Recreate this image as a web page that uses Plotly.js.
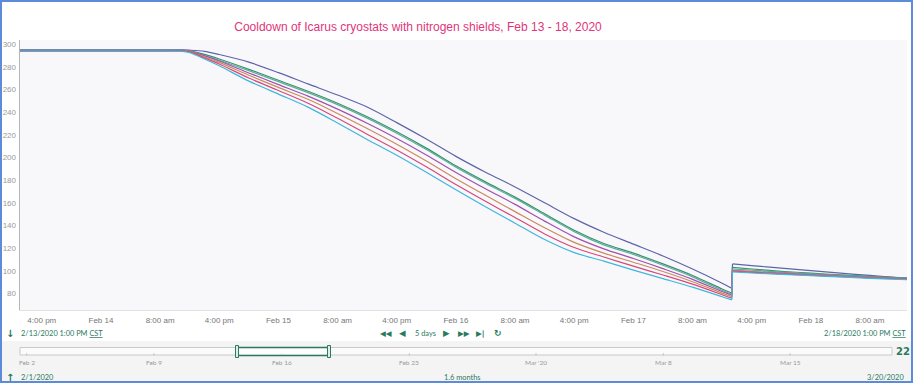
<!DOCTYPE html>
<html>
<head>
<meta charset="utf-8">
<script src="https://cdn.plot.ly/plotly-3.0.1.min.js"></script>
<style>
  html, body { margin: 0; padding: 0; background: #ffffff; }
  #chart { width: 915px; height: 385px; }
</style>
</head>
<body>
<div id="chart"></div>
<script>
// ---- data ----
const times = ['2020-02-13 13:00', '2020-02-14 00:00', '2020-02-14 08:00', '2020-02-14 11:00', '2020-02-14 12:00',
  '2020-02-14 14:00', '2020-02-14 16:00', '2020-02-14 20:00', '2020-02-15 00:00', '2020-02-15 04:00',
  '2020-02-15 08:00', '2020-02-15 12:00', '2020-02-15 16:00', '2020-02-15 20:00', '2020-02-16 00:00',
  '2020-02-16 04:00', '2020-02-16 08:00', '2020-02-16 12:00', '2020-02-16 16:00', '2020-02-16 20:00',
  '2020-02-17 00:00', '2020-02-17 04:00', '2020-02-17 08:00', '2020-02-17 12:00', '2020-02-17 13:18',
  '2020-02-17 13:24', '2020-02-17 16:00', '2020-02-17 20:00', '2020-02-18 00:00', '2020-02-18 04:00',
  '2020-02-18 08:00', '2020-02-18 12:00', '2020-02-18 13:00'];

const sensorSlate = [295, 295, 295, 295, 294.8, 293.8, 291, 284.3, 275, 265, 255.2, 244.6, 230.8, 216.3, 201,
  187, 174, 160, 146, 134, 123.5, 113, 101.5, 89, 84.6, 106, 104.5, 102.3, 100, 97.8, 95.8, 93.8, 93.3];
const sensorGreen = [294.6, 294.6, 294.6, 294.6, 294.2, 291.1, 287, 277.9, 268.2, 258.5, 247.9, 236, 222.7, 208.3, 192.7,
  178.5, 165, 150.3, 135.7, 124, 115.5, 106, 95.8, 83.9, 80.3, 103, 101.5, 99.5, 97.8, 96.3, 95, 94, 93.6];
const sensorTeal = [294.4, 294.4, 294.4, 294.4, 294, 290, 285.8, 276.7, 267, 257.3, 246.7, 234.8, 221.5, 207.1, 191.5,
  177.3, 163.8, 149.1, 134.5, 122.8, 114.3, 104.8, 94.6, 82.7, 79.1, 101.5, 100.5, 98.8, 97.3, 96, 94.7, 93.7, 93.3];
const sensorPurple = [294.3, 294.3, 294.3, 294.3, 293.8, 289.9, 285.3, 274.7, 264.4, 254.2, 242.7, 230.2, 216.8, 202.3, 186.8,
  172.4, 158.6, 143.8, 129.9, 119.3, 110.8, 101.8, 92.4, 81.6, 78.3, 100.3, 99.3, 97.8, 96.5, 95.3, 94.1, 93.2, 92.9];
const sensorOrange = [294.2, 294.2, 294.2, 294.2, 293.6, 289, 284, 272.7, 261.9, 251.4, 238.8, 225.6, 211.7, 196.9, 181.2,
  166.6, 152.2, 137.9, 125, 115.5, 107.5, 99.3, 90.3, 80.2, 77.1, 100, 99, 97.5, 96.2, 95, 93.9, 93, 92.7];
const sensorCrimson = [294.2, 294.2, 294.2, 294.2, 293.3, 288, 282.6, 270.2, 259.2, 248, 234.7, 220.6, 206.7, 191.8, 176.1,
  161.3, 147, 132.5, 120.5, 112.1, 104, 96.2, 88.1, 78.8, 75.7, 99.6, 98.6, 97.2, 96, 94.8, 93.7, 92.8, 92.5];
const sensorCyan = [294, 294, 294, 293.7, 292.5, 287, 281, 267.5, 256, 244.5, 230.5, 216, 202, 187, 171.5,
  156.5, 142, 127.5, 116, 108.5, 100.5, 93, 85.5, 77, 74.2, 99, 98, 96.8, 95.6, 94.5, 93.3, 92.3, 92];

const xTickVals = ['2020-02-13 16:00', '2020-02-14 00:00', '2020-02-14 08:00', '2020-02-14 16:00', '2020-02-15 00:00',
  '2020-02-15 08:00', '2020-02-15 16:00', '2020-02-16 00:00', '2020-02-16 08:00', '2020-02-16 16:00',
  '2020-02-17 00:00', '2020-02-17 08:00', '2020-02-17 16:00', '2020-02-18 00:00', '2020-02-18 08:00'];
const xTickText = ['4:00 pm', 'Feb 14', '8:00 am', '4:00 pm', 'Feb 15', '8:00 am', '4:00 pm', 'Feb 16',
  '8:00 am', '4:00 pm', 'Feb 17', '8:00 am', '4:00 pm', 'Feb 18', '8:00 am'];
const yTickVals = [80, 100, 120, 140, 160, 180, 200, 220, 240, 260, 280, 300];

const navLabels = ['Feb 2', 'Feb 9', 'Feb 16', 'Feb 23', "Mar '20", 'Mar 8', 'Mar 15'];

// ---- styles ----
const W = 915, H = 385;
const px = v => v / W;
const py = v => 1 - v / H;
const GREEN = '#2a7a5e';
const JUMP = 24; // last sample before the warm-up jump

const series = [
  {y: sensorSlate, color: '#5f64aa'},
  {y: sensorGreen, color: '#3a8f6f'},
  {y: sensorTeal, color: '#5aae98'},
  {y: sensorPurple, color: '#a24fae'},
  {y: sensorOrange, color: '#c98b5e'},
  {y: sensorCrimson, color: '#d8487a'},
  {y: sensorCyan, color: '#3fb6dc'}
];

const traces = [];
series.forEach(s => {
  const base = {type: 'scatter', mode: 'lines', hoverinfo: 'skip', showlegend: false};
  traces.push(Object.assign({}, base, {x: times.slice(0, JUMP + 1), y: s.y.slice(0, JUMP + 1),
    line: {color: s.color, width: 1.2, shape: 'spline', smoothing: 0.8}}));
  traces.push(Object.assign({}, base, {x: times.slice(JUMP, JUMP + 2), y: s.y.slice(JUMP, JUMP + 2),
    line: {color: s.color, width: 1.2}}));
  traces.push(Object.assign({}, base, {x: times.slice(JUMP + 1), y: s.y.slice(JUMP + 1),
    line: {color: s.color, width: 1.2, shape: 'spline', smoothing: 0.5}}));
});

const navX = [26.7, 154, 281.7, 409.3, 536, 663.3, 790];

const annotations = [];
const txt = (text, x, y, xanchor, font) => annotations.push({
  text, x: px(x), y: py(y), xref: 'paper', yref: 'paper', xanchor, yanchor: 'middle',
  showarrow: false, font
});
const gfont = {family: 'Lato, sans-serif', size: 7.4, color: GREEN};
txt('↓', 10, 333, 'center', {family: 'DejaVu Sans', size: 10, color: GREEN, weight: 'bold'});
txt('2/13/2020 1:00 PM <span style="text-decoration:underline">CST</span>', 19, 333, 'left', gfont);
txt('2/18/2020 1:00 PM <span style="text-decoration:underline">CST</span>', 908, 333, 'right', gfont);
const cfont = {family: 'DejaVu Sans', size: 8.5, color: GREEN};
txt('◀◀', 386, 333, 'center', {family: 'DejaVu Sans', size: 7.5, color: GREEN});
txt('◀', 402, 333, 'center', cfont);
txt('5 days', 425, 333, 'center', gfont);
txt('▶', 446, 333, 'center', cfont);
txt('▶▶', 464, 333, 'center', {family: 'DejaVu Sans', size: 7.5, color: GREEN});
txt('▶|', 480, 333, 'center', {family: 'DejaVu Sans', size: 7.5, color: GREEN, weight: 'bold'});
txt('↻', 498, 333, 'center', {family: 'DejaVu Sans', size: 9, color: GREEN, weight: 'bold'});
navLabels.forEach((t, i) => txt(t, navX[i], 362, 'center', {family: 'Lato, Liberation Sans, sans-serif', size: 6.5, color: '#9a9a9a'}));
txt('↑', 10, 377, 'center', {family: 'DejaVu Sans', size: 10, color: GREEN, weight: 'bold'});
txt('2/1/2020', 19, 377, 'left', gfont);
txt('1.6 months', 463, 377, 'center', gfont);
txt('3/20/2020', 906, 377, 'right', gfont);
txt('22', 903, 351, 'center', {family: 'DejaVu Sans', size: 10, color: GREEN, weight: 'bold'});

const shapes = [];
const rect = (x0, y0, x1, y1, fill, line, lw) => shapes.push({
  type: 'rect', xref: 'paper', yref: 'paper', x0: px(x0), x1: px(x1), y0: py(y1), y1: py(y0),
  fillcolor: fill, line: {color: line, width: lw}, layer: 'above'
});
rect(2, 341, 912, 382, '#f4f4f4', 'rgba(0,0,0,0)', 0);
rect(20, 347.5, 892, 355, '#fbfbfb', '#c9c9c9', 1);
navX.forEach(x => shapes.push({type: 'line', xref: 'paper', yref: 'paper', x0: px(x), x1: px(x),
  y0: py(356), y1: py(353), line: {color: '#c9c9c9', width: 1}, layer: 'above'}));
rect(237, 347.5, 329, 355.5, 'rgba(255,255,255,0.6)', GREEN, 1.5);
rect(235.5, 345.5, 238.5, 357.5, '#dfeee7', GREEN, 1);
rect(327.5, 345.5, 330.5, 357.5, '#dfeee7', GREEN, 1);
rect(1, 1, 912, 382, 'rgba(0,0,0,0)', '#5b8bd9', 2);

const layout = {
  width: W, height: H,
  margin: {l: 0, r: 0, t: 0, b: 0, pad: 0},
  paper_bgcolor: '#ffffff',
  plot_bgcolor: '#f8f8fa',
  showlegend: false,
  title: {
    text: 'Cooldown of Icarus cryostats with nitrogen shields, Feb 13 - 18, 2020',
    x: px(418), xanchor: 'center', xref: 'container',
    y: py(27), yanchor: 'middle', yref: 'container',
    font: {family: 'Liberation Sans, Arial, sans-serif', size: 12, color: '#e0357a'}
  },
  xaxis: {
    type: 'date', domain: [px(19.6), px(907)],
    range: ['2020-02-13 13:00', '2020-02-18 13:00'],
    tickmode: 'array', tickvals: xTickVals, ticktext: xTickText,
    ticks: '', showgrid: false, zeroline: false,
    showline: true, linecolor: '#e2e2e2', linewidth: 1,
    tickfont: {family: 'Liberation Sans, Arial, sans-serif', size: 8, color: '#777777'},
    ticklabelstandoff: 2
  },
  yaxis: {
    domain: [py(310), py(40)],
    range: [65.3, 303.8],
    tickmode: 'array', tickvals: yTickVals,
    ticks: '', showgrid: false, zeroline: false,
    showline: true, linecolor: '#b5b5b5', linewidth: 1,
    tickfont: {family: 'Liberation Sans, Arial, sans-serif', size: 8, color: '#999999'},
    ticklabelstandoff: 1
  },
  annotations, shapes
};

Plotly.newPlot('chart', traces, layout, {displayModeBar: false, staticPlot: true});
</script>
</body>
</html>
